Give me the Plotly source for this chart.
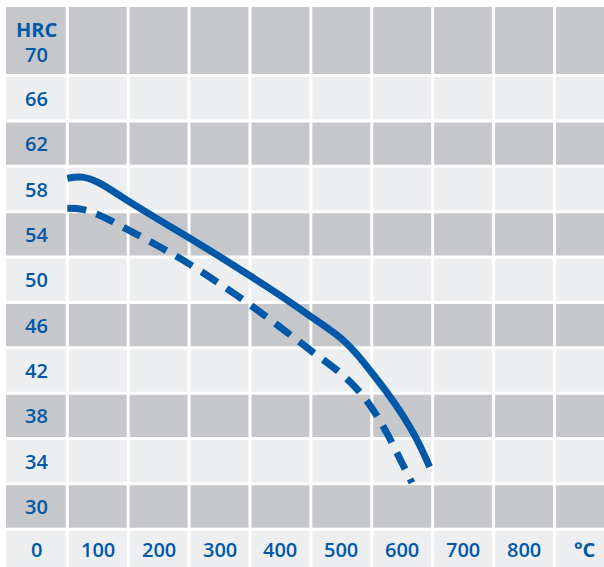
import plotly.graph_objects as go

# Tempering temperature (°C) and hardness (HRC)
solid_t = [50, 75, 100, 150, 200, 250, 300, 350, 400, 450, 500, 525, 550, 575, 600, 625, 645]
solid_hrc = [58.95, 59.05, 58.6, 56.95, 55.3, 53.7, 52.05, 50.35, 48.6, 46.75, 44.8, 43.45, 41.8, 40.05, 38.1, 35.8, 33.5]

dash_t = [50, 75, 100, 150, 200, 250, 300, 350, 400, 450, 500, 525, 550, 575, 600, 616]
dash_hrc = [56.3, 56.2, 55.75, 54.4, 52.95, 51.4, 49.65, 47.8, 45.8, 43.75, 41.7, 40.4, 38.7, 36.45, 33.8, 32.1]

x_ticks = [0, 100, 200, 300, 400, 500, 600, 700, 800]
y_ticks = [30, 34, 38, 42, 46, 50, 54, 58, 62, 66, 70]
x_unit = "°C"
y_unit = "HRC"

BLUE = "#0059A8"
DARK = "#C6C7CA"
LIGHT = "#EDEEF0"

XMIN, XMAX = -50.65, 931.3
YMIN, YMAX = 24.67, 74.05

fig = go.Figure()

shapes = []
# row bands
for i, v in enumerate(y_ticks):
    top = v + 2 if v != 70 else YMAX + 1
    shapes.append(dict(type="rect", xref="x", yref="y", x0=XMIN - 10, x1=XMAX + 10,
                       y0=v - 2, y1=top, fillcolor=DARK if i % 2 == 0 else LIGHT,
                       line_width=0, layer="below"))
shapes.append(dict(type="rect", xref="x", yref="y", x0=XMIN - 10, x1=XMAX + 10,
                   y0=YMIN - 1, y1=28, fillcolor=LIGHT, line_width=0, layer="below"))
# white grid lines
for t in x_ticks + [900]:
    xb = t + 50
    shapes.append(dict(type="line", xref="x", yref="y", x0=xb, x1=xb, y0=YMIN - 1, y1=YMAX + 1,
                       line=dict(color="white", width=3), layer="below"))
for v in y_ticks:
    yb = v - 2
    shapes.append(dict(type="line", xref="x", yref="y", x0=XMIN - 10, x1=XMAX + 10, y0=yb, y1=yb,
                       line=dict(color="white", width=3), layer="below"))

fig.add_trace(go.Scatter(x=dash_t, y=dash_hrc, mode="lines",
                         line=dict(color=BLUE, width=7, dash="19px,11px", shape="spline", smoothing=1.0),
                         hoverinfo="skip", showlegend=False))
fig.add_trace(go.Scatter(x=solid_t, y=solid_hrc, mode="lines",
                         line=dict(color=BLUE, width=7, shape="spline", smoothing=1.0),
                         hoverinfo="skip", showlegend=False))

annotations = []
font = dict(family="Open Sans", size=20, color=BLUE, weight=600)
bfont = dict(family="Open Sans", size=20, color=BLUE, weight=700)
for v in y_ticks:
    annotations.append(dict(x=0, y=v if v != 70 else 69.9, xref="x", yref="y", text=str(v),
                            showarrow=False, font=font, xanchor="center", yanchor="middle"))
annotations.append(dict(x=0, y=72.1, xref="x", yref="y", text=y_unit,
                        showarrow=False, font=bfont, xanchor="center", yanchor="middle"))
for t in x_ticks:
    annotations.append(dict(x=t, y=26.2, xref="x", yref="y", text=str(t),
                            showarrow=False, font=font, xanchor="center", yanchor="middle"))
annotations.append(dict(x=900, y=26.2, xref="x", yref="y", text=x_unit,
                        showarrow=False, font=bfont, xanchor="center", yanchor="middle"))

fig.update_layout(
    width=604, height=567,
    margin=dict(l=6, r=0, t=7, b=0),
    paper_bgcolor="white", plot_bgcolor=LIGHT,
    xaxis=dict(range=[XMIN, XMAX], visible=False, fixedrange=True),
    yaxis=dict(range=[YMIN, YMAX], visible=False, fixedrange=True),
    shapes=shapes, annotations=annotations,
)

fig.write_html("out.html", config={"displayModeBar": False},
               post_script="document.body.style.margin='0px';document.body.style.padding='0px';")
